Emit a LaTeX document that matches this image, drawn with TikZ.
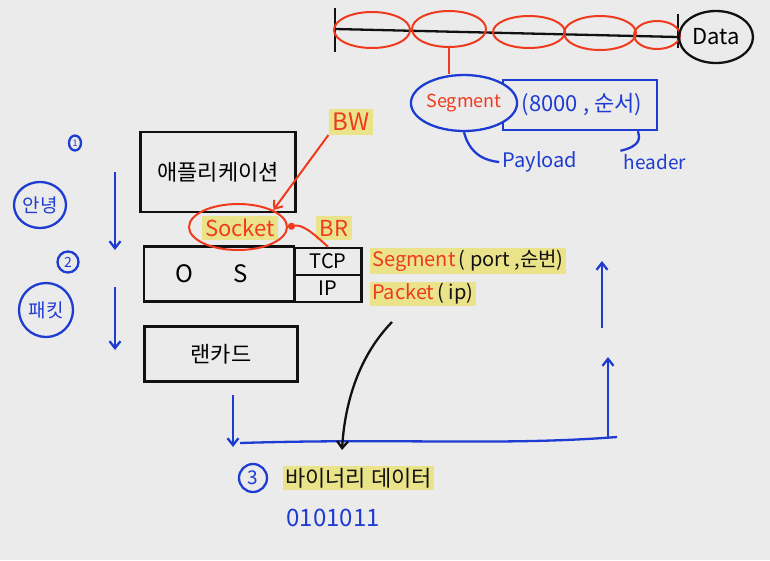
\documentclass[tikz,border=0pt]{standalone}
\usepackage{fontspec}
\setmainfont{Noto Sans CJK KR}
\usetikzlibrary{shapes.geometric,arrows.meta}
\definecolor{bg}{HTML}{EBEBEB}
\definecolor{pen}{HTML}{111111}
\definecolor{bpen}{HTML}{1E3CD2}
\definecolor{rpen}{HTML}{F03A1E}
\definecolor{hl}{HTML}{EAE38A}
\newcommand{\fsz}[1]{\fontsize{#1}{#1}\selectfont}
\tikzset{
  box/.style={draw=pen, line width=2.4pt, rectangle, inner sep=0pt},
  bline/.style={draw=bpen, line width=2.3pt},
  rline/.style={draw=rpen, line width=2pt},
  kline/.style={draw=pen, line width=2.3pt},
  barrow/.style={bline, -{Straight Barb[length=7pt,width=11pt]}},
  hltext/.style={fill=hl, inner sep=2pt, anchor=west},
  redov/.style={ellipse, rline, inner sep=0pt},
}
\begin{document}
\begin{tikzpicture}[x=1pt,y=-1pt]
\fill[bg] (0,0) rectangle (770,560);
\useasboundingbox (0,0) rectangle (770,560);

% ---------- top data line ----------
\coordinate (tl) at (335,29);
\coordinate (tr) at (678,37);
\draw[kline] (tl) -- (tr);
\draw[kline] (335,8) -- (335,52);
\draw[kline] (678,14) -- (678,48);
\node[redov, minimum width=76pt, minimum height=36pt] (s1) at (372,30) {};
\node[redov, minimum width=74pt, minimum height=36pt] (s2) at (449,29) {};
\node[redov, minimum width=72pt, minimum height=32pt] (s3) at (529,32) {};
\node[redov, minimum width=72pt, minimum height=34pt] (s4) at (600,33) {};
\node[redov, minimum width=46pt, minimum height=28pt] (s5) at (657,35) {};
\node[ellipse, kline, minimum width=74pt, minimum height=52pt, inner sep=0pt, font=\fsz{22}] (data) at (716,37) {Data};

% ---------- segment detail ----------
\node[rectangle, bline, minimum width=154pt, minimum height=50pt, inner sep=0pt, text=bpen, font=\fsz{22}] (hdr) at (580,105) {\hspace*{4pt}(8000 , 순서)};
\node[ellipse, bline, fill=bg, minimum width=86pt, minimum height=56pt, inner sep=0pt, text=rpen, font=\fsz{18}] (seg) at (464,103) {Segment};
\draw[rline] (s2.south) -- (s2.south |- seg.north);
\node[text=bpen, font=\fsz{20}] (pay) at (540,162) {Payload};
\node[text=bpen, font=\fsz{19}] (head) at (655,162) {header};
\draw[bline] (seg.south) .. controls (468,148) and (478,160) .. (pay.west);
\draw[bline] (hdr.south -| 638,0) .. controls (640,138) and (641,146) .. (head.north west);

% ---------- left side steps ----------
\node[ellipse, bline, minimum width=12pt, minimum height=15pt, inner sep=0pt, text=bpen, font=\fsz{9}] (n1) at (75,143) {1};
\node[ellipse, bline, minimum width=52pt, minimum height=46pt, inner sep=0pt, text=bpen, font=\fsz{19}] (hello) at (40,205) {안녕};
\node[circle, bline, minimum size=21pt, inner sep=0pt, text=bpen, font=\fsz{14}] (n2) at (68,262) {2};
\node[ellipse, bline, minimum width=54pt, minimum height=54pt, inner sep=0pt, text=bpen, font=\fsz{19}] (pkt) at (46,310) {패킷};
\coordinate (a1s) at (115,172);
\coordinate (a1e) at (115,250);
\coordinate (a2s) at (115,287);
\coordinate (a2e) at (115,350);
\draw[barrow] (a1s) -- (a1e);
\draw[barrow] (a2s) -- (a2e);

% ---------- layer boxes ----------
\node[box, minimum width=155pt, minimum height=80pt, font=\fsz{22}] (app) at (218,172) {애플리케이션};
\node[box, minimum width=150pt, minimum height=55pt, font=\fsz{24}] (os) at (219,274) {\hspace*{-14pt}O\hspace{40pt}S};
\node[box, minimum width=67pt, minimum height=27pt, font=\fsz{20}] (tcp) at (328,261.5) {TCP};
\node[box, minimum width=67pt, minimum height=27pt, font=\fsz{20}] (ip) at (328,288.5) {IP};
\node[box, minimum width=153pt, minimum height=55pt, font=\fsz{22}] (lan) at (221,354) {랜카드};

% ---------- socket / BW / BR ----------
\node[fill=hl, inner sep=3pt, text=rpen, font=\fsz{22}] (socktxt) at (240,228) {Socket};
\node[ellipse, rline, minimum width=98pt, minimum height=46pt, inner sep=0pt] (sock) at (238,227) {};
\node[fill=hl, inner sep=4pt, text=rpen, font=\fsz{24}] (bw) at (351,122) {BW};
\node[fill=hl, inner sep=4pt, text=rpen, font=\fsz{22}] (br) at (334,228) {BR};
\draw[rline, -{Straight Barb[length=7pt,width=11pt]}] (bw.south west) -- (sock.north east);
\draw[rline, -{Circle[length=7pt]}] (tcp.north) .. controls (312,232) and (302,224) .. (sock.east);

% ---------- protocol labels ----------
\node[hltext, font=\fsz{20}, text=pen] (seglbl) at (370,261) {\textcolor{rpen}{Segment}\,( port ,순번)};
\node[hltext, font=\fsz{20}, text=pen] (pktlbl) at (370,294) {\textcolor{rpen}{Packet}\,( ip)};

% ---------- bottom loop ----------
\coordinate (d1) at (233,395);
\coordinate (d2) at (233,447);
\coordinate (hl1) at (240,443);
\coordinate (hr1) at (617,437);
\coordinate (u1s) at (608,439);
\coordinate (u1e) at (608,357);
\coordinate (u2s) at (602,328);
\coordinate (u2e) at (602,261);
\draw[barrow] (d1) -- (d2);
\draw[bline] (hl1) .. controls (400,438) and (500,446) .. (hr1);
\draw[barrow] (u1s) -- (u1e);
\draw[barrow] (u2s) -- (u2e);

\coordinate (bs) at (392,322);
\coordinate (be) at (342,450);
\draw[kline, -{Straight Barb[length=7pt,width=11pt]}] (bs) .. controls (360,355) and (345,400) .. (be);

\node[circle, bline, minimum size=28pt, inner sep=0pt, text=bpen, font=\fsz{19}] (n3) at (253,478) {3};
\node[fill=hl, inner sep=2pt, anchor=west, text=pen, font=\fsz{22}] (bin) at (283,478) {바이너리 데이터};
\node[text=bpen, font=\fsz{24}, anchor=west] (bits) at (283,518) {0101011};
\end{tikzpicture}
\end{document}
